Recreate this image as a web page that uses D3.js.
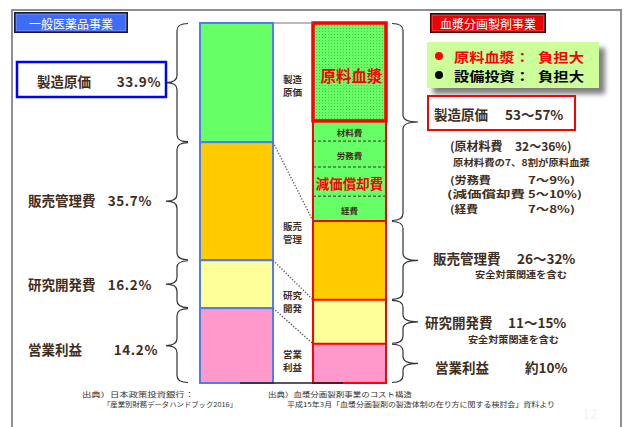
<!DOCTYPE html>
<html><head><meta charset="utf-8">
<script src="https://cdn.jsdelivr.net/npm/d3@7"></script>
<style>body{margin:0;background:#fff}svg{display:block}text{font-family:'Noto Sans CJK JP','Noto Sans',sans-serif}</style>
</head><body><svg id="c" width="624" height="427"></svg>
<script>
// ---- data ----
const leftCategories = ["製造原価", "販売管理費", "研究開発費", "営業利益"];
const leftLabelValues = ["33.9%", "35.7%", "16.2%", "14.2%"];
const leftBarShares = [33.1, 32.8, 13.3, 20.8];          // heights as drawn in the source graphic
const leftColors = ["#66ff66", "#ffcc00", "#ffff99", "#ff99cc"];

const rightSegments = ["原料血漿", "材料費", "労務費", "減価償却費", "経費", "販売管理", "研究開発", "営業利益"];
const rightShares = [27.2, 5.6, 7.2, 8.1, 6.9, 21.9, 12.2, 10.9];
const rightGroup = [0, 0, 0, 0, 0, 1, 2, 3];
const rightColors = ["#66ff66", "#66ff66", "#66ff66", "#66ff66", "#66ff66", "#ffcc00", "#ffff99", "#ff99cc"];

const middleLabels = [["製造", "原価"], ["販売", "管理"], ["研究", "開発"], ["営業", "利益"]];
const rightGroupLabels = [["製造原価", "53～57%"], ["販売管理費", "26～32%"], ["研究開発費", "11～15%"], ["営業利益", "約10%"]];
const costDetails = [["(原材料費", "32～36%)"], ["(労務費", "7～9%)"], ["(減価償却費", "5～10%)"], ["(経費", "7～8%)"]];
const plasmaNote = "原材料費の7、8割が原料血漿";
const safetyNote = "安全対策関連を含む";
const burdens = [["原料血漿：", "負担大", "#ff0000"], ["設備投資：", "負担大", "#000000"]];
const sourcesLeft = ["出典）日本政策投資銀行：", "「産業別財務データハンドブック2016」"];
const sourcesRight = ["出典）血漿分画製剤事業のコスト構造", "平成15年3月「血漿分画製剤の製造体制の在り方に関する検討会」資料より"];

// ---- drawing ----
const svg = d3.select("#c");
const brown = "#3f2e1d";
const yTop = 23, yBottom = 383;
const yL = d3.scaleLinear().domain([0, d3.sum(leftBarShares)]).range([yTop, yBottom]);
const yR = d3.scaleLinear().domain([0, d3.sum(rightShares)]).range([yTop, yBottom]);
const xL = d3.scaleBand().domain(["L", "R"]).range([200, 386]).paddingInner(0.354);
const lx = xL("L"), rx = xL("R"), bw = xL.bandwidth();

const cum = arr => arr.reduce((a, v) => { a.push(a[a.length - 1] + v); return a; }, [0]);
const cL = cum(leftBarShares), cR = cum(rightShares);

const defs = svg.append("defs");
const pat = defs.append("pattern").attr("id", "dots").attr("width", 3).attr("height", 3).attr("patternUnits", "userSpaceOnUse");
pat.append("rect").attr("width", 3).attr("height", 3).attr("fill", "#66ff66");
pat.append("rect").attr("x", 1).attr("y", 1).attr("width", 1).attr("height", 1).attr("fill", "#2f9a2f").attr("opacity", 0.55);
const blur = defs.append("filter").attr("id", "blur").attr("x", "-20%").attr("y", "-20%").attr("width", "140%").attr("height", "140%");
blur.append("feGaussianBlur").attr("stdDeviation", 2.5);

// frame
svg.append("path").attr("d", "M12,427 L12,10 L621,10 L621,427").attr("fill", "none").attr("stroke", "#8f8f8f").attr("stroke-width", 2);

// badges
function badge(x, y, w, h, fill, dark, label) {
  svg.append("rect").attr("x", x).attr("y", y).attr("width", w).attr("height", h).attr("fill", dark);
  svg.append("rect").attr("x", x + 2).attr("y", y + 2).attr("width", w - 4).attr("height", h - 4).attr("fill", fill).attr("stroke", "rgba(255,255,255,0.35)").attr("stroke-width", 1);
  svg.append("text").attr("x", x + w / 2).attr("y", y + h / 2 + 0.5).attr("text-anchor", "middle").attr("dominant-baseline", "central")
    .attr("fill", "#fff").attr("font-size", 12).text(label);
}
badge(14, 12, 114, 21, "#3d6cf6", "#1a1a40", "一般医薬品事業");
badge(430, 13, 116, 20, "#ee0000", "#4a0000", "血漿分画製剤事業");

// left bar
svg.append("g").selectAll("rect").data(leftBarShares).join("rect")
  .attr("x", lx).attr("width", bw)
  .attr("y", (d, i) => yL(cL[i])).attr("height", d => yL(d) - yL(0))
  .attr("fill", (d, i) => leftColors[i]).attr("stroke", "#4d7cf5").attr("stroke-width", 2);

// right bar
svg.append("g").selectAll("rect").data(rightShares).join("rect")
  .attr("x", rx).attr("width", bw)
  .attr("y", (d, i) => yR(cR[i])).attr("height", d => yR(d) - yR(0))
  .attr("fill", (d, i) => i === 0 ? "url(#dots)" : rightColors[i]);
[1, 2, 3].forEach(i => {
  svg.append("line").attr("x1", rx).attr("x2", rx + bw).attr("y1", yR(cR[i + 1])).attr("y2", yR(cR[i + 1]))
    .attr("stroke", "#333").attr("stroke-width", 1).attr("stroke-dasharray", "3,2");
});
rightShares.forEach((d, i) => {
  if (i > 0 && rightGroup[i] !== rightGroup[i - 1]) {
    svg.append("line").attr("x1", rx).attr("x2", rx + bw).attr("y1", yR(cR[i])).attr("y2", yR(cR[i])).attr("stroke", "#ff0000").attr("stroke-width", 2);
  }
});
svg.append("rect").attr("x", rx).attr("y", yR(0)).attr("width", bw).attr("height", yR(d3.sum(rightShares)) - yR(0))
  .attr("fill", "none").attr("stroke", "#ff0000").attr("stroke-width", 2);
svg.append("rect").attr("x", rx).attr("y", yR(0)).attr("width", bw).attr("height", yR(cR[1]) - yR(0))
  .attr("fill", "none").attr("stroke", "#ff0000").attr("stroke-width", 3.5);

// connecting lines
svg.append("line").attr("x1", lx + bw).attr("x2", rx).attr("y1", yTop).attr("y2", yTop).attr("stroke", "#777").attr("stroke-width", 1.2);
svg.append("line").attr("x1", lx + 40).attr("x2", rx + 30).attr("y1", yBottom).attr("y2", yBottom).attr("stroke", "#222").attr("stroke-width", 1.5);

[1, 2, 3].forEach(g => {
  const ri = rightGroup.indexOf(g);
  svg.append("line").attr("x1", lx + bw).attr("y1", yL(cL[g])).attr("x2", rx).attr("y2", yR(cR[ri]))
    .attr("stroke", "#555").attr("stroke-width", 1.3).attr("stroke-dasharray", "1.3,1.7");
});

// labels inside right bar
const rxc = rx + bw / 2;
rightSegments.slice(0, 5).forEach((s, i) => {
  const yc = (yR(cR[i]) + yR(cR[i + 1])) / 2;
  const big = (i === 0 || i === 3);
  svg.append("text").attr("x", rxc + (i === 0 ? 2 : 0)).attr("y", yc + (i === 0 ? 3 : 1)).attr("text-anchor", "middle").attr("dominant-baseline", "central")
    .attr("font-size", i === 0 ? 15.5 : (big ? 13.5 : 8.5)).attr("font-weight", 700)
    .attr("fill", big ? "#ff0000" : brown).text(s);
});

// middle labels (two lines each)
const midY = [79, 226, 295, 354];
middleLabels.forEach((pair, i) => {
  pair.forEach((s, j) => {
    svg.append("text").attr("x", 283).attr("y", midY[i] + j * 12.5).attr("dominant-baseline", "central")
      .attr("font-size", 8.6).attr("font-weight", 700).attr("fill", brown)
      .attr("textLength", 19).attr("lengthAdjust", "spacingAndGlyphs").text(s);
  });
});

// braces
function brace(y0, y1, xEnd, xSpine, xTip) {
  const ym = (y0 + y1) / 2, r = 7;
  const p = `M${xEnd},${y0} Q${xSpine},${y0} ${xSpine},${y0 + r} L${xSpine},${ym - r} Q${xSpine},${ym} ${xTip},${ym} Q${xSpine},${ym} ${xSpine},${ym + r} L${xSpine},${y1 - r} Q${xSpine},${y1} ${xEnd},${y1}`;
  svg.append("path").attr("d", p).attr("fill", "none").attr("stroke", "#333").attr("stroke-width", 1.2);
}
leftBarShares.forEach((d, i) => brace(yL(cL[i]) + 0.5, yL(cL[i + 1]) - 0.5, 188, 177, 166));
[0, 1, 2, 3].forEach(g => {
  const idx = rightGroup.map((v, i) => v === g ? i : -1).filter(i => i >= 0);
  brace(yR(cR[idx[0]]) + 0.5, yR(cR[idx[idx.length - 1] + 1]) - 0.5, 392, 403, 418);
});

// left labels
svg.append("rect").attr("x", 17).attr("y", 62).attr("width", 149).attr("height", 35).attr("fill", "#fff").attr("stroke", "#0000ff").attr("stroke-width", 2.5);
const leftNameX = [37, 28, 28, 28];
leftCategories.forEach((c, i) => {
  const yc = (yL(cL[i]) + yL(cL[i + 1])) / 2 + [-2, -1, 0, 3][i];
  svg.append("text").attr("x", leftNameX[i]).attr("y", yc).attr("dominant-baseline", "central")
    .attr("font-size", 13.5).attr("font-weight", 700).attr("fill", brown).text(c);
  svg.append("text").attr("x", [161, 152, 152, 158][i]).attr("y", yc).attr("text-anchor", "end").attr("dominant-baseline", "central")
    .attr("font-size", 13.5).attr("font-weight", 700).attr("fill", brown).attr("letter-spacing", 0.6).text(leftLabelValues[i]);
});

// burden box
svg.append("rect").attr("x", 433).attr("y", 48).attr("width", 172).attr("height", 46).attr("fill", "#808080").attr("filter", "url(#blur)");
svg.append("rect").attr("x", 427).attr("y", 42).attr("width", 172).attr("height", 46).attr("fill", "#ccff99");
burdens.forEach((b, i) => {
  const yy = 56 + i * 19;
  svg.append("circle").attr("cx", 439).attr("cy", yy).attr("r", 4).attr("fill", b[2]);
  svg.append("text").attr("x", 454).attr("y", yy).attr("dominant-baseline", "central").attr("font-size", 13).attr("font-weight", 700).attr("fill", b[2])
    .attr("textLength", 76).attr("lengthAdjust", "spacingAndGlyphs").text(b[0]);
  svg.append("text").attr("x", 538).attr("y", yy).attr("dominant-baseline", "central").attr("font-size", 13).attr("font-weight", 700).attr("fill", b[2])
    .attr("textLength", 46).attr("lengthAdjust", "spacingAndGlyphs").text(b[1]);
});

// right group labels
svg.append("rect").attr("x", 428).attr("y", 96).attr("width", 147).attr("height", 34).attr("fill", "#fff").attr("stroke", "#ff0000").attr("stroke-width", 2);
const rgPos = [[434, 505, 114], [433, 517, 258], [425, 508, 322], [435, 525, 367]];
rightGroupLabels.forEach((l, i) => {
  const p = rgPos[i];
  svg.append("text").attr("x", p[0]).attr("y", p[2]).attr("dominant-baseline", "central").attr("font-size", 13.5).attr("font-weight", 700).attr("fill", brown).text(l[0]);
  svg.append("text").attr("x", p[1]).attr("y", p[2]).attr("dominant-baseline", "central").attr("font-size", 13.5).attr("font-weight", 700).attr("fill", brown).text(l[1]);
});
// cost detail rows
svg.append("text").attr("x", 450).attr("y", 145).attr("dominant-baseline", "central").attr("font-size", 12).attr("font-weight", 700).attr("fill", brown).text(costDetails[0][0]);
svg.append("text").attr("x", 515).attr("y", 145).attr("dominant-baseline", "central").attr("font-size", 12).attr("font-weight", 700).attr("fill", brown).text(costDetails[0][1]);
const cdY = [179, 193.5, 208];
const cdX = [450, 447, 450];
const cdW = [[41, 47], [78, 54], [28, 47]];
costDetails.slice(1).forEach((c, i) => {
  svg.append("text").attr("x", cdX[i]).attr("y", cdY[i]).attr("dominant-baseline", "central").attr("font-size", 10).attr("font-weight", 700).attr("fill", brown)
    .attr("textLength", cdW[i][0]).attr("lengthAdjust", "spacingAndGlyphs").text(c[0]);
  svg.append("text").attr("x", 528).attr("y", cdY[i]).attr("dominant-baseline", "central").attr("font-size", 10).attr("font-weight", 700).attr("fill", brown)
    .attr("textLength", cdW[i][1]).attr("lengthAdjust", "spacingAndGlyphs").text(c[1]);
});
svg.append("text").attr("x", 453).attr("y", 162).attr("dominant-baseline", "central").attr("font-size", 9).attr("font-weight", 700).attr("fill", brown)
  .attr("textLength", 137).attr("lengthAdjust", "spacingAndGlyphs").text(plasmaNote);
[[475, 274, 92], [468, 339, 91]].forEach(p => {
  svg.append("text").attr("x", p[0]).attr("y", p[1]).attr("dominant-baseline", "central").attr("font-size", 9).attr("font-weight", 700).attr("fill", brown)
    .attr("textLength", p[2]).attr("lengthAdjust", "spacingAndGlyphs").text(safetyNote);
});

// sources
sourcesLeft.forEach((s, i) => {
  svg.append("text").attr("x", i === 0 ? 82 : 103).attr("y", 394 + i * 10).attr("dominant-baseline", "central").attr("font-size", 6.8).attr("fill", "#333")
    .attr("textLength", i === 0 ? 112 : 134).attr("lengthAdjust", "spacingAndGlyphs").text(s);
});
sourcesRight.forEach((s, i) => {
  svg.append("text").attr("x", i === 0 ? 268 : 287).attr("y", 394 + i * 10).attr("dominant-baseline", "central").attr("font-size", 6.8).attr("fill", "#333")
    .attr("textLength", i === 0 ? 144 : 268).attr("lengthAdjust", "spacingAndGlyphs").text(s);
});
svg.append("text").attr("x", 582).attr("y", 413).attr("dominant-baseline", "central").attr("font-size", 14).attr("fill", "#f2f2f2").text("12");
</script></body></html>
